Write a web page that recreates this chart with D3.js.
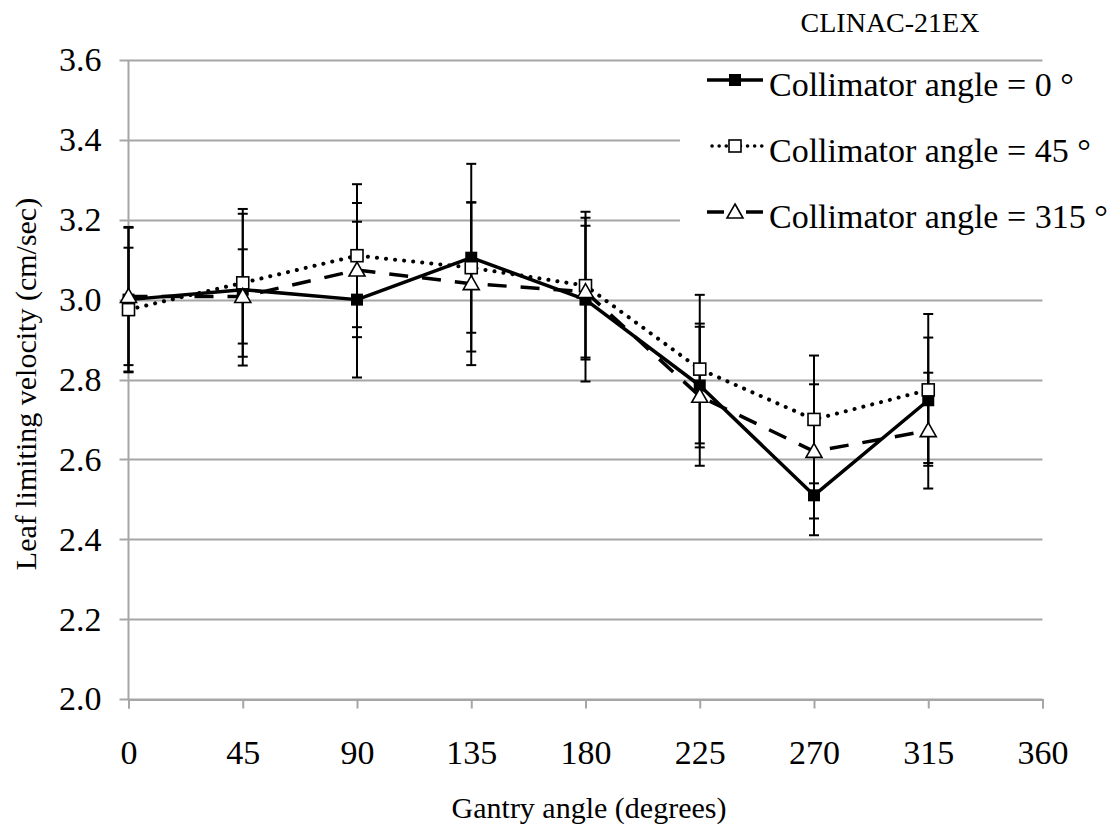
<!DOCTYPE html>
<html><head><meta charset="utf-8">
<script src="https://cdnjs.cloudflare.com/ajax/libs/d3/7.8.5/d3.min.js"></script>
<style>body{margin:0;background:#fff}svg{display:block}text{font-family:"Liberation Serif","Times New Roman",serif;fill:#000}</style>
</head><body><svg id="c" width="1114" height="832"></svg>
<script>
const gantry = [0, 45, 90, 135, 180, 225, 270, 315];
const xTicks = [0, 45, 90, 135, 180, 225, 270, 315, 360];
const yTicks = [2.0, 2.2, 2.4, 2.6, 2.8, 3.0, 3.2, 3.4, 3.6];
const seriesNames = ["Collimator angle = 0 °", "Collimator angle = 45 °", "Collimator angle = 315 °"];
const coll0 = [3.00, 3.025, 3.00, 3.105, 3.00, 2.785, 2.51, 2.748];
const coll0Err = [0.182, 0.19, 0.195, 0.235, 0.205, 0.155, 0.10, 0.157];
const coll45 = [2.975, 3.042, 3.11, 3.08, 3.035, 2.826, 2.70, 2.774];
const coll45Err = [0.155, 0.185, 0.179, 0.163, 0.185, 0.186, 0.16, 0.19];
const coll315 = [3.008, 3.008, 3.074, 3.04, 3.02, 2.758, 2.62, 2.672];
const coll315Err = [0.172, 0.118, 0.168, 0.204, 0.165, 0.174, 0.168, 0.145];
const titleText = "CLINAC-21EX";
const xTitle = "Gantry angle (degrees)";
const yTitle = "Leaf limiting velocity (cm/sec)";

const svg = d3.select("#c");
const x = d3.scaleLinear().domain([0, 360]).range([128.5, 1042.5]);
const y = d3.scaleLinear().domain([2.0, 3.6]).range([699, 60]);
const grid = "#a6a6a6";

// gridlines
svg.append("g").selectAll("line").data(yTicks).join("line")
  .attr("x1", x(0) - 9).attr("x2", x(360))
  .attr("y1", d => Math.round(y(d)) + 0.5).attr("y2", d => Math.round(y(d)) + 0.5)
  .attr("stroke", grid).attr("stroke-width", 2);
// y axis line
svg.append("line").attr("x1", x(0)).attr("x2", x(0)).attr("y1", y(3.6)).attr("y2", y(2.0))
  .attr("stroke", grid).attr("stroke-width", 2);
// x axis
const xAxis = d3.axisBottom(x).tickValues(xTicks).tickSize(9).tickPadding(31).tickFormat(d3.format("d"));
const gx = svg.append("g").attr("transform", `translate(0,${Math.round(y(2.0)) + 0.5})`).call(xAxis);
gx.select(".domain").attr("stroke", grid).attr("stroke-width", 2);
gx.selectAll(".tick line").attr("stroke", grid).attr("stroke-width", 2);
gx.selectAll(".tick text").attr("font-size", 34).attr("font-family", "Liberation Serif").attr("fill", "#000");
// y tick labels
const yAxis = d3.axisLeft(y).tickValues(yTicks).tickSize(0).tickPadding(27).tickFormat(d3.format(".1f"));
const gy = svg.append("g").attr("transform", `translate(${x(0)},0)`).call(yAxis);
gy.select(".domain").remove();
gy.selectAll(".tick text").attr("font-size", 34).attr("font-family", "Liberation Serif").attr("fill", "#000");

// legend background covering gridlines
svg.append("rect").attr("x", 680).attr("y", 66).attr("width", 370).attr("height", 180).attr("fill", "#fff");

const series = [
  {name: seriesNames[0], vals: coll0, errs: coll0Err, dash: null, width: 3.5, marker: "fsq"},
  {name: seriesNames[1], vals: coll45, errs: coll45Err, dash: "0.1 9", width: 4, marker: "osq"},
  {name: seriesNames[2], vals: coll315, errs: coll315Err, dash: "19 14", width: 3.5, marker: "tri"}
];

function drawMarker(g, type, cx, cy) {
  if (type === "fsq") {
    g.append("rect").attr("x", cx - 6).attr("y", cy - 6).attr("width", 12).attr("height", 12).attr("fill", "#000");
  } else if (type === "osq") {
    g.append("rect").attr("x", cx - 6).attr("y", cy - 6).attr("width", 12).attr("height", 12)
      .attr("fill", "#fff").attr("stroke", "#000").attr("stroke-width", 1.6);
  } else {
    g.append("path").attr("d", `M${cx},${cy - 8}L${cx + 8},${cy + 6}L${cx - 8},${cy + 6}Z`)
      .attr("fill", "#fff").attr("stroke", "#000").attr("stroke-width", 1.6);
  }
}

const plot = svg.append("g");
// error bars
series.forEach(s => {
  const g = plot.append("g");
  gantry.forEach((gv, i) => {
    const cx = x(gv), top = y(s.vals[i] + s.errs[i]), bot = y(s.vals[i] - s.errs[i]);
    g.append("line").attr("x1", cx).attr("x2", cx).attr("y1", top).attr("y2", bot).attr("stroke", "#000").attr("stroke-width", 2);
    [top, bot].forEach(yy => g.append("line").attr("x1", cx - 5).attr("x2", cx + 5).attr("y1", yy).attr("y2", yy).attr("stroke", "#000").attr("stroke-width", 2));
  });
});
// lines
const lineGen = d3.line().x((d, i) => x(gantry[i])).y(d => y(d));
series.forEach(s => {
  const p = plot.append("path").attr("d", lineGen(s.vals)).attr("fill", "none").attr("stroke", "#000")
    .attr("stroke-width", s.width).attr("stroke-linejoin", "round");
  if (s.dash) {
    p.attr("stroke-dasharray", s.dash);
    if (s.marker === "osq") p.attr("stroke-linecap", "round");
  }
});
// markers
series.forEach(s => {
  const g = plot.append("g");
  gantry.forEach((gv, i) => drawMarker(g, s.marker, x(gv), y(s.vals[i])));
});

// legend
svg.append("text").attr("x", 890).attr("y", 32).attr("text-anchor", "middle").attr("font-size", 28).text(titleText);
series.forEach((s, i) => {
  const ly = 80 + i * 66;
  const g = svg.append("g");
  const l = g.append("line").attr("x1", 707).attr("x2", 763).attr("y1", ly).attr("y2", ly)
    .attr("stroke", "#000").attr("stroke-width", s.width);
  if (s.marker === "osq") l.attr("stroke-dasharray", "0.1 7").attr("stroke-linecap", "round").attr("stroke-width", 3.5).attr("x1", 712);
  if (s.marker === "tri") l.attr("stroke-dasharray", "17 22");
  drawMarker(g, s.marker, 735, ly);
  g.append("text").attr("x", 769).attr("y", ly + 16).attr("font-size", 34).text(s.name);
});

// axis titles
svg.append("text").attr("x", 589).attr("y", 818).attr("text-anchor", "middle").attr("font-size", 30).text(xTitle);
svg.append("text").attr("transform", "translate(36,384) rotate(-90)").attr("text-anchor", "middle").attr("font-size", 30).text(yTitle);
</script></body></html>
